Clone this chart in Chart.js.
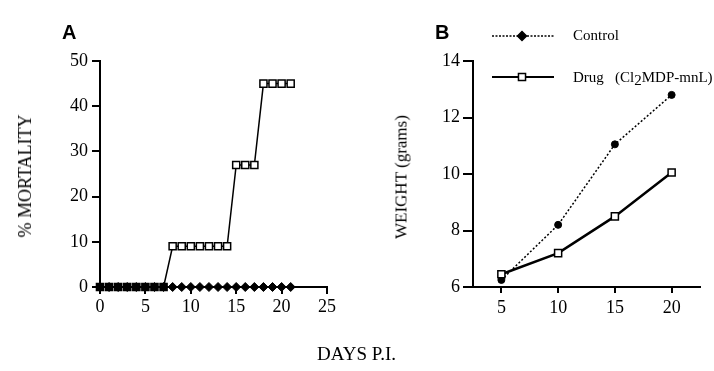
<!DOCTYPE html>
<html>
<head>
<meta charset="utf-8">
<script src="https://cdn.jsdelivr.net/npm/chart.js@4"></script>
<style>
  body { margin: 0; background: #fff; }
  #wrap { position: relative; width: 714px; height: 371px; overflow: hidden; font-family: 'Liberation Serif', serif; color: #000; }
  canvas { position: absolute; top: 0; }
  .txt { position: absolute; line-height: 1; white-space: nowrap; }
  .panel { font-family: 'Liberation Sans', Arial, sans-serif; font-weight: bold; font-size: 20px; }
  .rot { transform: translate(-50%, -50%) rotate(-90deg); }
</style>
</head>
<body>
<div id="wrap">
  <canvas id="chartA" width="360" height="371" style="left:0"></canvas>
  <canvas id="chartB" width="334" height="371" style="left:380px"></canvas>

  <div class="txt panel" style="left:62px; top:22px;">A</div>
  <div class="txt panel" style="left:435px; top:22px;">B</div>

  <div class="txt rot" style="left:25px; top:176px; font-size:18px;">% MORTALITY</div>
  <div class="txt rot" style="left:401px; top:177px; font-size:17px;">WEIGHT (grams)</div>
  <div class="txt" style="left:317px; top:344px; font-size:19px;">DAYS P.I.</div>

  <div class="txt" style="left:573px; top:28px; font-size:15px;">Control</div>
  <div class="txt" style="left:573px; top:70px; font-size:15px;">Drug&nbsp;&nbsp;&nbsp;(Cl<span style="position:relative; top:3px;">2</span>MDP-mnL)</div>
</div>

<script>
// ---- Panel A: mortality ----
const days = [0, 1, 2, 3, 4, 5, 6, 7, 8, 9, 10, 11, 12, 13, 14, 15, 16, 17, 18, 19, 20, 21];
const controlMortality = [0, 0, 0, 0, 0, 0, 0, 0, 0, 0, 0, 0, 0, 0, 0, 0, 0, 0, 0, 0, 0, 0];
const drugMortality = [0, 0, 0, 0, 0, 0, 0, 0, 9, 9, 9, 9, 9, 9, 9, 27, 27, 27, 45, 45, 45, 45];
const dayTicksA = [0, 5, 10, 15, 20, 25];
const mortalityTicks = [0, 10, 20, 30, 40, 50];

// ---- Panel B: weight ----
const weightDays = [5, 10, 15, 20];
const controlWeight = [6.25, 8.2, 11.05, 12.8];
const drugWeight = [6.45, 7.2, 8.5, 10.05];
const dayTicksB = [5, 10, 15, 20];
const weightTicks = [6, 8, 10, 12, 14];

Chart.defaults.font.family = "'Liberation Serif', serif";
Chart.defaults.color = '#000';
Chart.defaults.animation = false;

function toPoints(xs, ys) {
    return xs.map((x, i) => ({ x: x, y: ys[i] }));
}

function fixedTicks(values) {
    return function(scale) {
        scale.ticks = values.map(v => ({ value: v }));
    };
}

function axis(opts) {
    return Object.assign({
        type: 'linear',
        border: { color: '#000', width: 2 },
        grid: { drawOnChartArea: false, drawTicks: true, color: '#000', lineWidth: 2, tickWidth: 2, tickLength: 8 },
        ticks: { font: { size: 18 }, color: '#000', padding: 4 }
    }, opts);
}

// Chart A
new Chart(document.getElementById('chartA'), {
    type: 'line',
    data: {
        datasets: [
            {
                label: 'Control',
                data: toPoints(days, controlMortality),
                borderColor: '#000',
                borderWidth: 1.5,
                pointStyle: 'rectRot',
                pointRadius: 4.5,
                pointBackgroundColor: '#000',
                pointBorderColor: '#000',
                pointBorderWidth: 1,
                clip: false
            },
            {
                label: 'Drug',
                data: toPoints(days, drugMortality),
                borderColor: '#000',
                borderWidth: 1.5,
                pointStyle: 'rect',
                pointRadius: 5,
                pointBackgroundColor: ctx => (ctx.raw && ctx.raw.y === 0 ? '#000' : '#fff'),
                pointBorderColor: '#000',
                pointBorderWidth: 1.5,
                clip: false
            }
        ]
    },
    options: {
        responsive: false,
        layout: { padding: { left: 0, top: 61, right: 33, bottom: 44 } },
        plugins: { legend: { display: false }, tooltip: { enabled: false } },
        scales: {
            x: axis({
                min: 0, max: 25,
                afterBuildTicks: fixedTicks(dayTicksA),
                afterFit: s => { s.height = 40; },
                grid: { drawOnChartArea: false, color: '#000', lineWidth: 2, tickWidth: 2, tickLength: 7 },
                ticks: { font: { size: 18 }, color: '#000', padding: 2, maxRotation: 0 }
            }),
            y: axis({
                min: 0, max: 50,
                afterBuildTicks: fixedTicks(mortalityTicks),
                afterFit: s => { s.width = 100; }
            })
        }
    }
});

// legend samples for panel B
const legendSamples = {
    id: 'legendSamples',
    afterDraw(chart) {
        const ctx = chart.ctx;
        const rows = [
            { y: 36, dash: [2, 1.5], lw: 1.5, style: 'rectRot', r: 4.5, fill: '#000' },
            { y: 77, dash: [], lw: 2, style: 'rect', r: 5, fill: '#fff' }
        ];
        rows.forEach(row => {
            ctx.save();
            ctx.strokeStyle = '#000';
            ctx.lineWidth = row.lw;
            ctx.setLineDash(row.dash);
            ctx.beginPath();
            ctx.moveTo(112, row.y);
            ctx.lineTo(174, row.y);
            ctx.stroke();
            ctx.setLineDash([]);
            ctx.fillStyle = row.fill;
            ctx.lineWidth = 1.5;
            Chart.helpers.drawPoint(ctx, { pointStyle: row.style, radius: row.r, borderWidth: 1.5, rotation: 0 }, 142, row.y);
            ctx.restore();
        });
    }
};

// Chart B
new Chart(document.getElementById('chartB'), {
    type: 'line',
    data: {
        datasets: [
            {
                label: 'Drug (Cl2MDP-mnL)',
                data: toPoints(weightDays, drugWeight),
                borderColor: '#000',
                borderWidth: 2.5,
                pointStyle: 'rect',
                pointRadius: 5,
                pointBackgroundColor: '#fff',
                pointBorderColor: '#000',
                pointBorderWidth: 1.5,
                clip: false
            },
            {
                label: 'Control',
                data: toPoints(weightDays, controlWeight),
                borderColor: '#000',
                borderWidth: 1.5,
                borderDash: [2, 2],
                pointStyle: 'circle',
                pointRadius: 3.5,
                pointBackgroundColor: '#000',
                pointBorderColor: '#000',
                pointBorderWidth: 1,
                clip: false
            }
        ]
    },
    options: {
        responsive: false,
        layout: { padding: { left: 0, top: 61, right: 14, bottom: 44 } },
        plugins: { legend: { display: false }, tooltip: { enabled: false } },
        scales: {
            x: axis({
                min: 2.5, max: 22.5,
                afterBuildTicks: fixedTicks(dayTicksB),
                afterFit: s => { s.height = 40; },
                grid: { drawOnChartArea: false, color: '#000', lineWidth: 2, tickWidth: 2, tickLength: 6 },
                ticks: { font: { size: 18 }, color: '#000', padding: 4, maxRotation: 0 }
            }),
            y: axis({
                min: 6, max: 14,
                afterBuildTicks: fixedTicks(weightTicks),
                afterFit: s => { s.width = 93; },
                grid: { drawOnChartArea: false, color: '#000', lineWidth: 2, tickWidth: 2, tickLength: 10 },
                ticks: { font: { size: 18 }, color: '#000', padding: 3 }
            })
        }
    },
    plugins: [legendSamples]
});
</script>
</body>
</html>
